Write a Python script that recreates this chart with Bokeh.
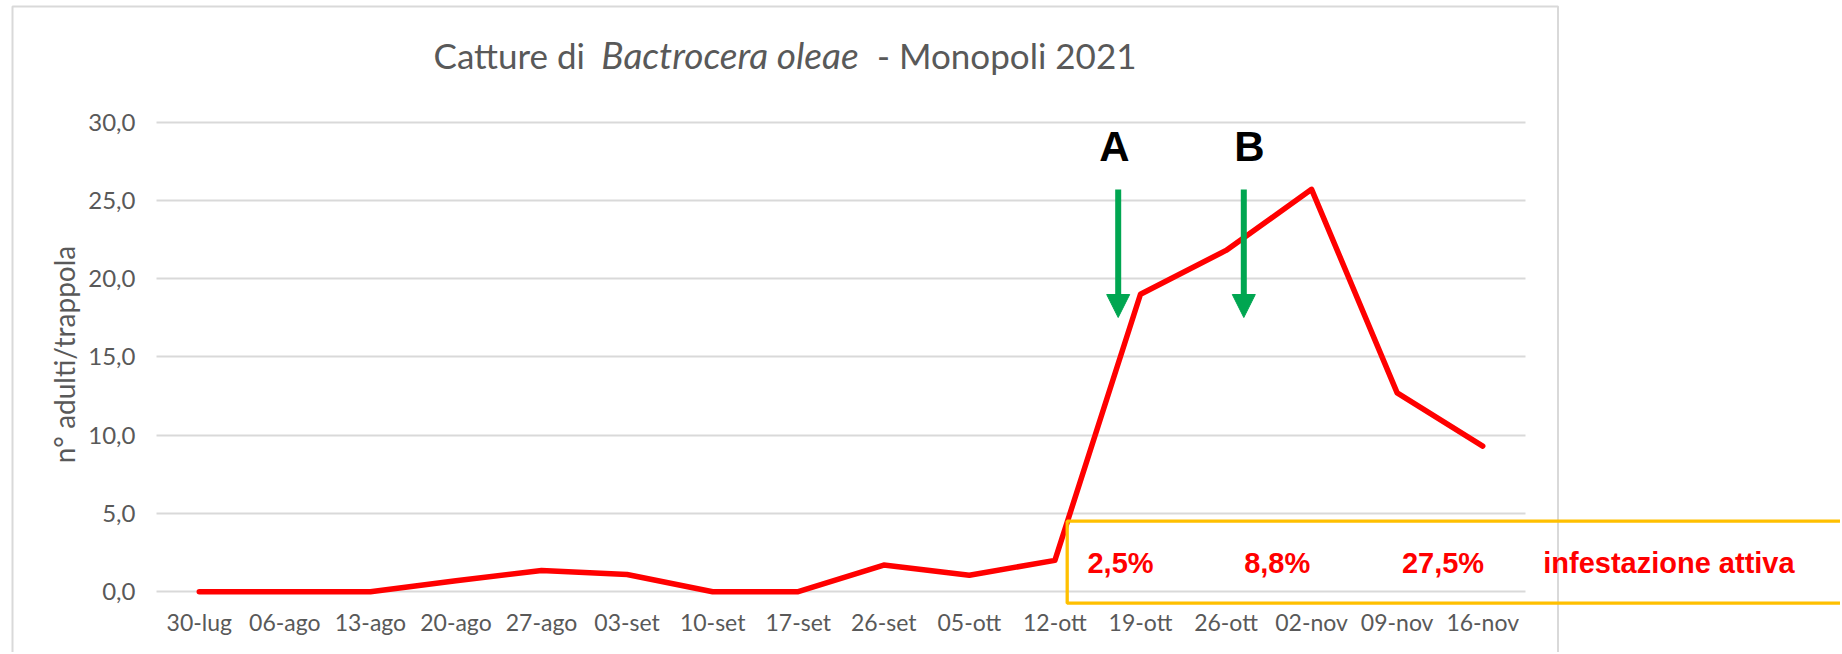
import subprocess
from bokeh.plotting import figure
from bokeh.models import Range1d, FixedTicker, Label, Arrow, NormalHead, BoxAnnotation
from bokeh.embed import file_html
from bokeh.resources import INLINE

# ---------------- data ----------------
dates = ["30-lug", "06-ago", "13-ago", "20-ago", "27-ago", "03-set", "10-set", "17-set",
         "26-set", "05-ott", "12-ott", "19-ott", "26-ott", "02-nov", "09-nov", "16-nov"]
catture = [0.0, 0.0, 0.0, 0.7, 1.35, 1.1, 0.0, 0.0, 1.7, 1.05, 2.0, 19.0, 21.8, 25.7, 12.7, 9.3]
y_ticks = [0, 5, 10, 15, 20, 25, 30]
y_tick_labels = ["0,0", "5,0", "10,0", "15,0", "20,0", "25,0", "30,0"]
y_title = "n° adulti/trappola"
infestazione = ["2,5%", "8,8%", "27,5%"]
infestazione_nota = "infestazione attiva"
trattamenti = ["A", "B"]

# ---------------- fonts ----------------
def has_font(name):
    try:
        out = subprocess.run(["fc-list", ":", "family"], capture_output=True, text=True).stdout
        return name in out
    except Exception:
        return False

if has_font("Liberation Sans Narrow"):
    narrow_font, narrow_size = "Liberation Sans Narrow", 35
else:
    narrow_font, narrow_size = "Liberation Sans", 29

GRAY = "#595959"
GREEN = "#00a651"
ORANGE = "#ffc000"
RED = "#ff0000"

# ---------------- geometry (page px <-> data) ----------------
W, H = 1840, 652
FL = 10                          # left edge of the plotting frame
XPX0, XSTEP = 198.78, 85.5625    # page x of first category, px per category
YPX0, YSTEP = 591.2, 15.656      # page y of value 0, px per unit

def dx(px):
    return (px - XPX0) / XSTEP

def dy(py):
    return (YPX0 - py) / YSTEP

X0, X1 = dx(FL), dx(W)
Y0, Y1 = dy(H), dy(0)

p = figure(width=W, height=H, x_range=Range1d(X0, X1), y_range=Range1d(Y0, Y1),
           output_backend="svg", toolbar_location=None,
           min_border_left=FL, min_border_right=0, min_border_top=0, min_border_bottom=0)
p.title.visible = False
p.outline_line_color = None
p.background_fill_color = "white"
p.border_fill_color = "white"

# chart-area border
p.add_layout(BoxAnnotation(left=dx(12), right=dx(1557.5), top=dy(6), bottom=dy(720),
                           fill_color=None, line_color="#d9d9d9", line_alpha=1.0, line_width=2))

# axes (labels drawn inside the frame with negative standoffs)
xt = FixedTicker(ticks=list(range(len(dates))))
p.xaxis.ticker = xt
p.xaxis.major_label_overrides = {i: d for i, d in enumerate(dates)}
yt = FixedTicker(ticks=y_ticks)
p.yaxis.ticker = yt
p.yaxis.major_label_overrides = dict(zip(y_ticks, y_tick_labels))
for ax in (p.xaxis[0], p.yaxis[0]):
    ax.axis_line_color = None
    ax.major_tick_line_color = None
    ax.minor_tick_line_color = None
    ax.major_tick_out = 0
    ax.minor_tick_out = 0
    ax.major_tick_in = 0
    ax.minor_tick_in = 0
    ax.major_label_text_font = "Lato"
    ax.major_label_text_color = GRAY
p.xaxis.major_label_text_font_size = "23px"
p.yaxis.major_label_text_font_size = "24px"
p.xaxis.major_label_standoff = -(H - 607)
p.yaxis.major_label_standoff = -(135 - FL)
p.xgrid.visible = False

grid = p.ygrid[0]
if "cross_bounds" in grid.properties():
    grid.ticker = yt
    grid.cross_bounds = (-0.5, len(dates) - 0.5)
    grid.grid_line_color = "#d9d9d9"
    grid.grid_line_width = 2
else:
    grid.visible = False
    n = len(y_ticks)
    p.segment(x0=[-0.5] * n, x1=[len(dates) - 0.5] * n, y0=y_ticks, y1=y_ticks,
              line_color="#d9d9d9", line_width=2, level="underlay")

# data line
p.line(x=list(range(len(dates))), y=catture, line_color=RED, line_width=5.5,
       line_join="round", line_cap="round")

def text_label(x_px, base_px, text, size, font, align="center", style="normal", color=GRAY, k=0.387):
    # y given as glyph baseline; Bokeh "middle" = centre of the font box
    return Label(x=dx(x_px), y=dy(base_px - k * size), text=text, text_align=align,
                 text_baseline="middle", text_font=font, text_font_size=f"{size}px",
                 text_font_style=style, text_color=color)

# y-axis title (rotated)
p.add_layout(Label(x=dx(63), y=dy(354), text=y_title, angle=90, angle_units="deg",
                   text_align="center", text_baseline="middle", text_font="Lato",
                   text_font_size="28px", text_color=GRAY))

# title (mixed roman / italic)
p.add_layout(text_label(433, 68, "Catture di", 35, "Lato", align="left"))
p.add_layout(text_label(729.5, 68, "Bactrocera oleae", 37, "Lato", style="italic"))
p.add_layout(text_label(1136, 68, "- Monopoli 2021", 35, "Lato", align="right"))

# treatment arrows A / B
for name, ax_px, lx_px in zip(trattamenti, [1117.7, 1243.3], [1114, 1249]):
    p.add_layout(Arrow(x_start=dx(ax_px), y_start=dy(189), x_end=dx(ax_px), y_end=dy(317),
                       line_color=GREEN, line_width=6,
                       end=NormalHead(size=23, fill_color=GREEN, line_color=GREEN, line_width=1)))
    p.add_layout(text_label(lx_px, 161, name, 42, "Liberation Sans", style="bold",
                            color="black", k=0.347))

# infestation box
p.add_layout(BoxAnnotation(left=dx(1066.7), right=dx(1900), top=dy(520.7), bottom=dy(602.7),
                           fill_color=None, line_color=ORANGE, line_alpha=1.0, line_width=3.3))
for t, cx in zip(infestazione, [1120, 1276.7, 1442.5]):
    p.add_layout(text_label(cx, 573, t, narrow_size, narrow_font, style="bold", color=RED, k=0.347))
p.add_layout(text_label(1542.7, 573, infestazione_nota, narrow_size, narrow_font, align="left",
                        style="bold", color=RED, k=0.347))

open("out.html", "w").write(file_html(p, INLINE))
